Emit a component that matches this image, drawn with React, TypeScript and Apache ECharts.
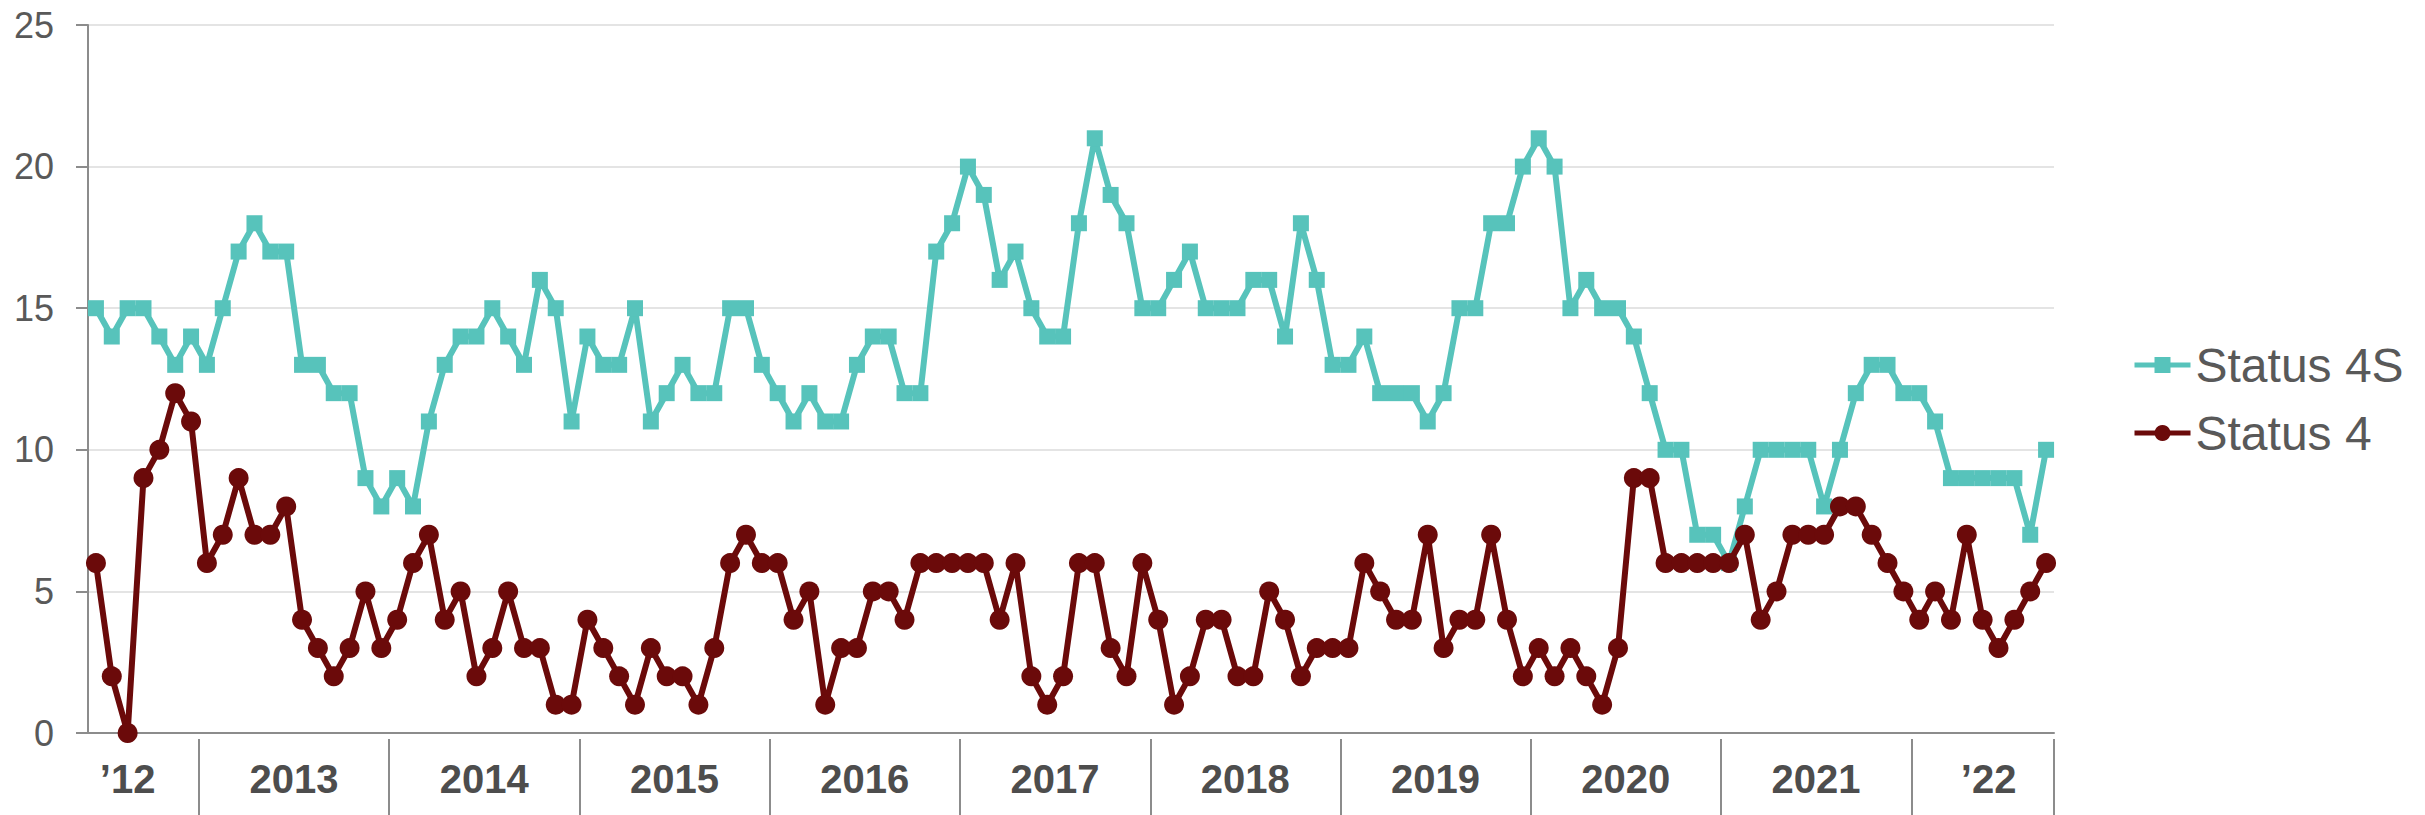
import React, { useEffect, useRef } from "react";
import * as echarts from "echarts";

// Monthly data, June 2012 – September 2022
const startYear = 2012;
const startMonth = 6;

const status4S: number[] = [
  15, 14, 15, 15, 14, 13, 14, 13, 15, 17, 18, 17, 17, 13, 13, 12, 12, 9, 8, 9, 8, 11, 13, 14, 14, 15, 14, 13, 16, 15, 11, 14, 13, 13,
  15, 11, 12, 13, 12, 12, 15, 15, 13, 12, 11, 12, 11, 11, 13, 14, 14, 12, 12, 17, 18, 20, 19, 16, 17, 15, 14, 14, 18, 21, 19, 18, 15, 15, 16, 17,
  15, 15, 15, 16, 16, 14, 18, 16, 13, 13, 14, 12, 12, 12, 11, 12, 15, 15, 18, 18, 20, 21, 20, 15, 16, 15, 15, 14, 12, 10, 10, 7, 7, 6,
  8, 10, 10, 10, 10, 8, 10, 12, 13, 13, 12, 12, 11, 9, 9, 9, 9, 9, 7, 10,
];

const status4: number[] = [
  6, 2, 0, 9, 10, 12, 11, 6, 7, 9, 7, 7, 8, 4, 3, 2, 3, 5, 3, 4, 6, 7, 4, 5, 2, 3, 5, 3, 3, 1, 1, 4, 3, 2,
  1, 3, 2, 2, 1, 3, 6, 7, 6, 6, 4, 5, 1, 3, 3, 5, 5, 4, 6, 6, 6, 6, 6, 4, 6, 2, 1, 2, 6, 6, 3, 2, 6, 4, 1, 2,
  4, 4, 2, 2, 5, 4, 2, 3, 3, 3, 6, 5, 4, 4, 7, 3, 4, 4, 7, 4, 2, 3, 2, 3, 2, 1, 3, 9, 9, 6, 6, 6, 6, 6,
  7, 4, 5, 7, 7, 7, 8, 8, 7, 6, 5, 4, 5, 4, 7, 4, 3, 4, 5, 6,
];

const months: string[] = status4S.map((_, i) => {
  const t = startMonth - 1 + i;
  const y = startYear + Math.floor(t / 12);
  const m = (t % 12) + 1;
  return `${y}-${m < 10 ? "0" + m : m}`;
});

const yTicks = [0, 5, 10, 15, 20, 25];

const FONT = "'Liberation Sans', Arial, sans-serif";
const TEAL = "#57c3bb";
const RED = "#6b0a0a";

export default function App() {
  const ref = useRef<HTMLDivElement>(null);

  useEffect(() => {
    if (!ref.current) return;
    const chart = echarts.init(ref.current, null, { renderer: "svg" });
    const parse = (v: string) => {
      const [y, m] = v.split("-");
      return { y: +y, m: +m };
    };
    const firstYear = parse(months[0]).y;
    const lastYear = parse(months[months.length - 1]).y;
    const labelStyle = {
      fontSize: 40,
      fontWeight: "bold" as const,
      color: "#4d4d4d",
      fontFamily: FONT,
    };
    chart.setOption({
      animation: false,
      backgroundColor: "#ffffff",
      grid: { left: 88, right: 371, top: 25, bottom: 82, containLabel: false },
      legend: {
        orient: "vertical",
        left: 2132,
        top: 341,
        padding: 0,
        itemWidth: 56,
        itemHeight: 20,
        itemGap: 20,
        lineStyle: { width: 5 },
        textStyle: { fontSize: 48, color: "#595959", fontFamily: FONT, lineHeight: 48 },
        data: ["Status 4S", "Status 4"],
      },
      xAxis: [
        {
          type: "category",
          data: months,
          boundaryGap: true,
          axisLine: { show: true, lineStyle: { color: "#8c8c8c", width: 2 } },
          axisTick: { show: false },
          splitLine: { show: false },
          axisLabel: {
            interval: (index: number, value: string) => {
              const { y, m } = parse(value);
              if (y === firstYear) return m === 8;
              if (y === lastYear) return m === 5;
              return m === 7;
            },
            formatter: (value: string) => {
              const { y } = parse(value);
              const short = "\u2019" + String(y).slice(2);
              if (y === firstYear) return `{s|${short}}`;
              if (y === lastYear) return `{e|${short}}`;
              return `{y|${y}}`;
            },
            margin: 26,
            rich: {
              s: { ...labelStyle },
              e: { ...labelStyle, padding: [0, 0, 0, 12] },
              y: { ...labelStyle, padding: [0, 16, 0, 0] },
            },
          },
        },
        {
          type: "category",
          data: months,
          boundaryGap: true,
          position: "bottom",
          offset: 6,
          axisLine: { show: false },
          axisLabel: { show: false },
          splitLine: { show: false },
          axisTick: {
            show: true,
            length: 80,
            interval: (index: number, value: string) => parse(value).m === 1,
            lineStyle: { color: "#8c8c8c", width: 2 },
          },
        },
      ],
      yAxis: {
        type: "value",
        min: yTicks[0],
        max: yTicks[yTicks.length - 1],
        interval: 5,
        axisLine: { show: true, lineStyle: { color: "#8c8c8c", width: 2 } },
        axisTick: { show: true, length: 12, lineStyle: { color: "#8c8c8c", width: 2 } },
        splitLine: { show: true, lineStyle: { color: "#e4e4e4", width: 2 } },
        axisLabel: { fontSize: 36, color: "#595959", fontFamily: FONT, margin: 34 },
      },
      series: [
        {
          name: "Status 4S",
          type: "line",
          data: status4S,
          xAxisIndex: 0,
          symbol: "rect",
          symbolSize: 16,
          showAllSymbol: true,
          lineStyle: { color: TEAL, width: 6 },
          itemStyle: { color: TEAL },
          z: 2,
        },
        {
          name: "Status 4",
          type: "line",
          data: status4,
          xAxisIndex: 0,
          symbol: "circle",
          symbolSize: 20,
          showAllSymbol: true,
          lineStyle: { color: RED, width: 6 },
          itemStyle: { color: RED },
          z: 3,
        },
      ],
    });
    return () => chart.dispose();
  }, []);

  return (
    <div
      ref={ref}
      style={{ position: "fixed", left: 0, top: 0, width: 2425, height: 815, background: "#fff" }}
    />
  );
}
